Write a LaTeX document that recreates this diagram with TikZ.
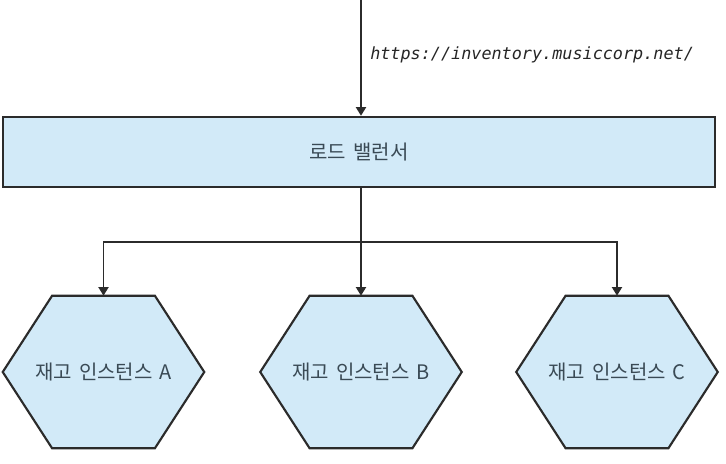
\documentclass[tikz,border=0pt]{standalone}
\usepackage{fontspec}
\newfontfamily\krfont[WordSpace=1.6]{Noto Sans CJK KR}
\newfontfamily\urlfont{DejaVu Sans Mono}
\usetikzlibrary{arrows.meta,calc}
\definecolor{fillblue}{HTML}{D2EAF8}
\definecolor{lineclr}{HTML}{2B2B2B}
\definecolor{txtclr}{HTML}{3A4A55}
\tikzset{
  arr/.style={draw=lineclr,line width=1.4pt,-{Triangle[width=7.5pt,length=6.5pt]}},
  conn/.style={draw=lineclr,line width=1.4pt},
  lbbox/.style={draw=lineclr,line width=1.8pt,fill=fillblue,minimum width=712*0.75pt,minimum height=70*0.75pt,inner sep=0pt,font=\krfont\fontsize{15pt}{18pt}\selectfont,text=txtclr},
  hexbox/.style={minimum width=201*0.75pt,minimum height=152*0.75pt,inner sep=0pt,font=\krfont\fontsize{15pt}{18pt}\selectfont,text=txtclr},
  hexline/.style={draw=lineclr,line width=1.6pt,fill=fillblue,line join=miter},
  urlstyle/.style={font=\urlfont\itshape\fontsize{12.6pt}{15pt}\selectfont,text=black!85,inner sep=0pt,anchor=west}
}
\newcommand{\drawhex}[1]{%
  \path[hexline] (#1.west) -- ($(#1.north west)!0.245!(#1.north east)$) -- ($(#1.north west)!0.755!(#1.north east)$) -- (#1.east) -- ($(#1.south west)!0.755!(#1.south east)$) -- ($(#1.south west)!0.245!(#1.south east)$) -- cycle;
  \node[hexbox] at (#1.center) {\csname hextext#1\endcsname};}
\begin{document}
\begin{tikzpicture}[x=0.75pt,y=-0.75pt]
\useasboundingbox[fill=white] (0,0) rectangle (726,464);
% load balancer
\node[lbbox] (lb) at (359,152) {로드 밸런서};
\coordinate (in) at (361,0);
\draw[arr] (in) -- (in |- lb.north);
\node[urlstyle] (url) at (370,55) {https://inventory.musiccorp.net/};
% hexagon placeholders
\node[hexbox] (a) at (103.5,372) {};
\node[hexbox] (b) at (361,372) {};
\node[hexbox] (c) at (617,372) {};
\def\hextexta{재고 인스턴스 A}
\def\hextextb{재고 인스턴스 B}
\def\hextextc{재고 인스턴스 C}
\drawhex{a}
\drawhex{b}
\drawhex{c}
% connectors
\coordinate (j) at (361,242);
\draw[conn] (lb.south -| j) -- (j);
\draw[arr] (j) -| (a.north);
\draw[arr] (j) -- (b.north);
\draw[arr] (j) -| (c.north);
\end{tikzpicture}
\end{document}
